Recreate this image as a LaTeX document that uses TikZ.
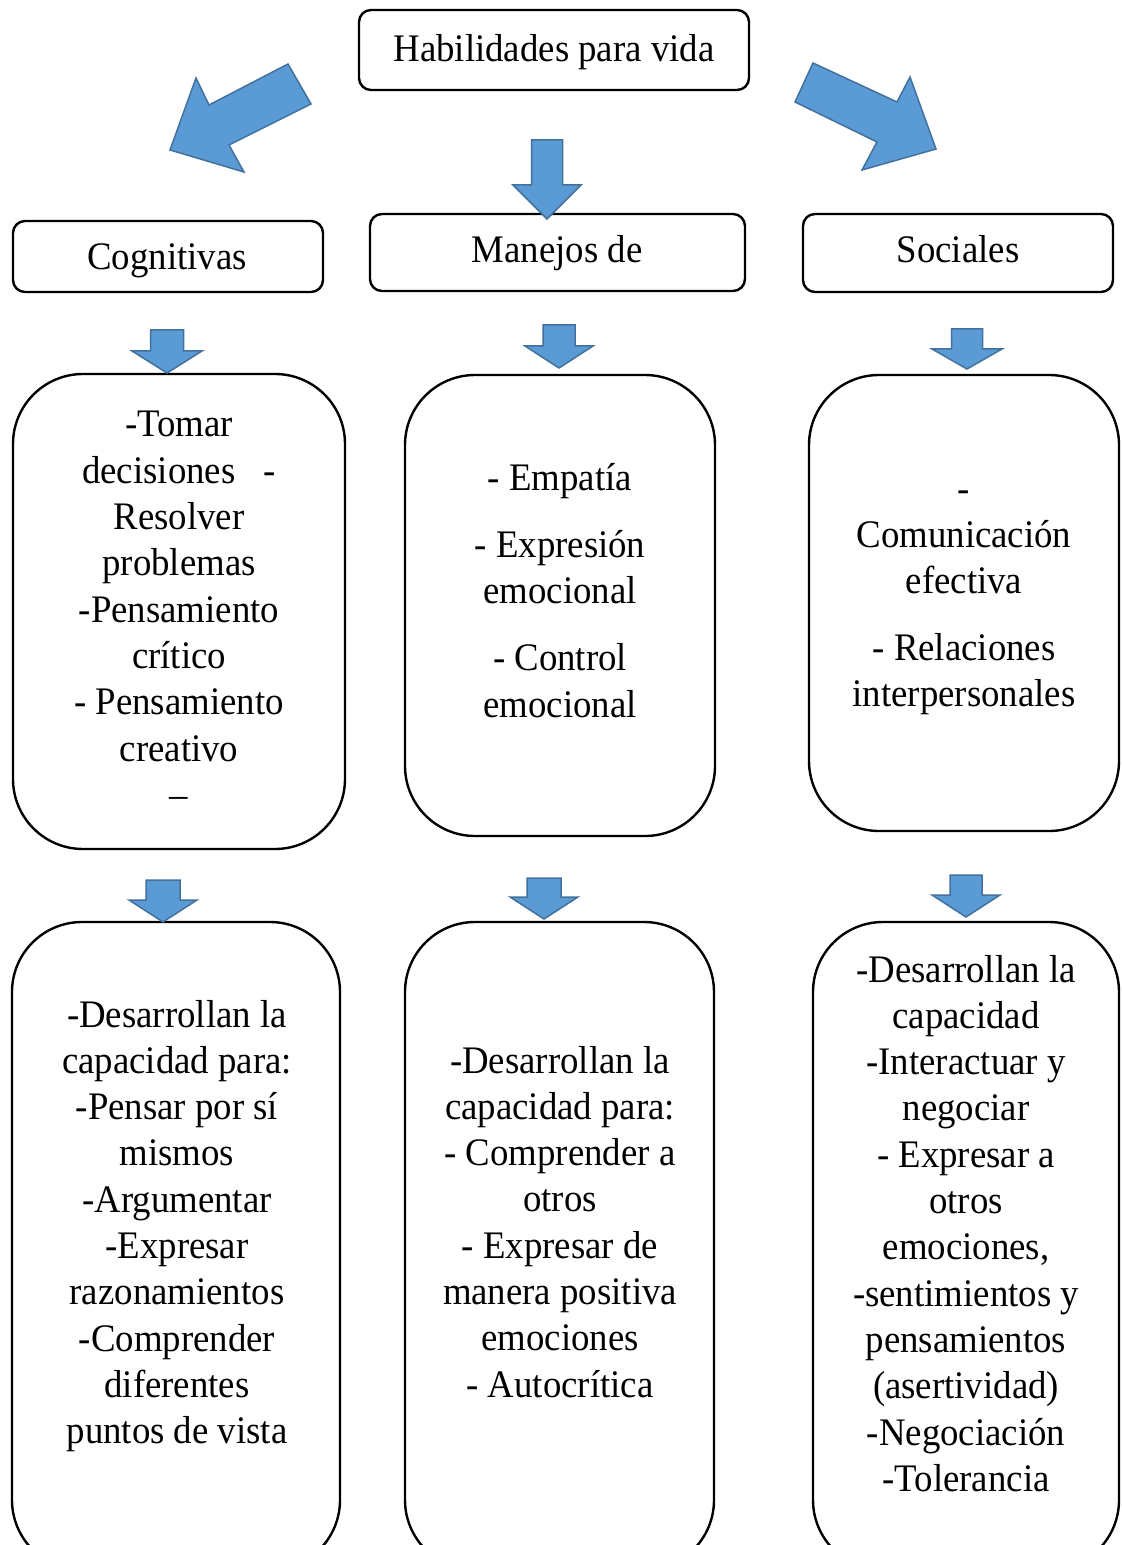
\documentclass[tikz,border=0pt]{standalone}
\usepackage{fontspec}
\setmainfont{Liberation Serif}
\usepackage{graphicx}
\definecolor{arrfill}{HTML}{5B9BD5}
\definecolor{arrline}{HTML}{41719C}
\newcommand\tx[1]{\scalebox{1}[1.06]{\fontsize{18.4}{21.84}\selectfont\begin{tabular}[t]{@{}c@{}}#1\end{tabular}}}
\newcommand\vblk[6]{%
  \draw[blk] (#1-#3,#2) -- (#1+#3,#2) -- (#1+#3,#5) -- (#1+#4,#5) -- (#1,#6) -- (#1-#4,#5) -- (#1-#3,#5) -- cycle;}
\tikzset{
  box/.style={draw, line width=1.2pt, rounded corners=6pt, inner sep=0pt, fill=white},
  bigbox/.style={draw, line width=1.2pt, rounded corners=35pt, inner sep=0pt, fill=white},
  lbl/.style={inner sep=0pt, anchor=base},
  blk/.style={fill=arrfill, draw=arrline, line width=0.75pt, line join=miter}
}
\begin{document}
\begin{tikzpicture}[x=0.5pt,y=-0.5pt]
\useasboundingbox (0,0) rectangle (1121,1545);
\clip (0,0) rectangle (1121,1545);
% boxes
\node[box, minimum width=195pt, minimum height=40pt] (top) at (554,50) {};
\node[box, minimum width=155pt, minimum height=35.5pt] (cog) at (168,256.5) {};
\node[box, minimum width=187.5pt, minimum height=38.5pt] (man) at (557.5,252.5) {};
\node[box, minimum width=155pt, minimum height=39pt] (soc) at (958,253) {};
\node[bigbox, minimum width=166pt, minimum height=237.5pt] (rL) at (179,611.5) {};
\node[bigbox, minimum width=155pt, minimum height=230.5pt] (rM) at (560,605.5) {};
\node[bigbox, minimum width=155pt, minimum height=228pt] (rR) at (964,603) {};
\node[bigbox, minimum width=164pt, minimum height=324pt] (bL) at (176,1246) {};
\node[bigbox, minimum width=154.5pt, minimum height=324pt] (bM) at (559.5,1246) {};
\node[bigbox, minimum width=153pt, minimum height=324pt] (bR) at (966,1246) {};
% big arrows
\draw[blk] (288,64) -- (311,104) -- (229,145) -- (244,172) -- (170,150) -- (196,78) -- (209,105) -- cycle;
\draw[blk] (813,63) -- (795,102) -- (877,142) -- (862,170) -- (936,149) -- (910,77) -- (897,102) -- cycle;
\vblk{547}{140}{15.5}{34}{185}{219}
% small arrows row 3
\vblk{167}{330}{16.5}{35}{351}{373}
\vblk{559}{325}{16}{34}{346}{368}
\vblk{967}{329}{15.5}{35}{349}{369}
% small arrows row 4
\vblk{163}{880}{17}{34}{900}{922}
\vblk{544}{878}{17}{34}{897}{919}
\vblk{966}{875}{16}{34}{895}{917}
% texts
\node[lbl] (ttop) at (554,62) {\tx{Habilidades para vida}};
\node[lbl] (tcog) at (167,270) {\tx{Cognitivas}};
\node[lbl] (tman) at (557,263) {\tx{Manejos de}};
\node[lbl] (tsoc) at (958,263) {\tx{Sociales}};
\node[lbl] (trL) at (179,437) {\tx{-Tomar\\ decisiones\hspace*{14pt}-\\ Resolver\\ problemas\\ -Pensamiento\\ crítico\\ - Pensamiento\\ creativo\\ –}};
\node[lbl] (trM) at (560,490) {\tx{- Empatía\\[9.9pt] - Expresión\\ emocional\\[9.9pt] - Control\\ emocional}};
\node[lbl] (trR) at (964,501) {\tx{-\\ Comunicación\\ efectiva\\[9.5pt] - Relaciones\\ interpersonales}};
\node[lbl] (tbL) at (177,1027) {\tx{-Desarrollan la\\ capacidad para:\\ -Pensar por sí\\ mismos\\ -Argumentar\\ -Expresar\\ razonamientos\\ -Comprender\\ diferentes\\ puntos de vista}};
\node[lbl] (tbM) at (560,1073) {\tx{-Desarrollan la\\ capacidad para:\\ - Comprender a\\ otros\\ - Expresar de\\ manera positiva\\ emociones\\ - Autocrítica}};
\node[lbl] (tbR) at (966,982) {\tx{-Desarrollan la\\ capacidad\\ -Interactuar y\\ negociar\\ - Expresar a\\ otros\\ emociones,\\ -sentimientos y\\ pensamientos\\ (asertividad)\\ -Negociación\\ -Tolerancia}};
\end{tikzpicture}
\end{document}
